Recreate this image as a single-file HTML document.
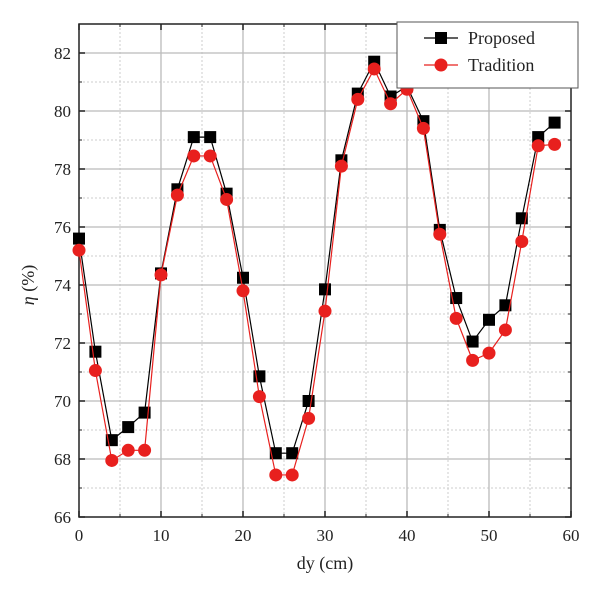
<!DOCTYPE html>
<html><head><meta charset="utf-8"><style>
body{margin:0;background:#fff}
svg{display:block;font-family:"Liberation Serif",serif}
</style></head><body>
<svg id="chart" width="600" height="595" viewBox="0 0 600 595"></svg>
<script>
const xValues=[0,2,4,6,8,10,12,14,16,18,20,22,24,26,28,30,32,34,36,38,40,42,44,46,48,50,52,54,56,58];
const proposed=[75.6,71.7,68.65,69.1,69.6,74.4,77.3,79.1,79.1,77.15,74.25,70.85,68.2,68.2,70.0,73.85,78.3,80.6,81.7,80.5,80.85,79.65,75.9,73.55,72.05,72.8,73.3,76.3,79.1,79.6];
const tradition=[75.2,71.05,67.95,68.3,68.3,74.35,77.1,78.45,78.45,76.95,73.8,70.15,67.45,67.45,69.4,73.1,78.1,80.4,81.45,80.25,80.75,79.4,75.75,72.85,71.4,71.65,72.45,75.5,78.8,78.85];
const xTicks=[0,10,20,30,40,50,60];
const yTicks=[66,68,70,72,74,76,78,80,82];
const NS="http://www.w3.org/2000/svg";
const svg=document.getElementById('chart');
const L=79,R=571,T=24,B=517;
const xs=v=>L+(v-0)/(60-0)*(R-L);
const ys=v=>517-(v-66)/16*(517-53);
function mk(tag,attrs,parent){const e=document.createElementNS(NS,tag);for(const k in attrs)e.setAttribute(k,attrs[k]);(parent||svg).appendChild(e);return e;}
const grid=mk('g',{});


for(let v=67;v<83;v+=2){mk('line',{x1:L,x2:R,y1:ys(v),y2:ys(v),stroke:'#ccc','stroke-dasharray':'2,2'},grid);}
for(let v=5;v<60;v+=10){mk('line',{x1:xs(v),x2:xs(v),y1:T,y2:B,stroke:'#ccc','stroke-dasharray':'2,2'},grid);}
yTicks.forEach(v=>{if(v>66)mk('line',{x1:L,x2:R,y1:ys(v),y2:ys(v),stroke:'#bbb','stroke-width':1.3},grid);});
xTicks.forEach(v=>{if(v>0&&v<60)mk('line',{x1:xs(v),x2:xs(v),y1:T,y2:B,stroke:'#bbb','stroke-width':1.3},grid);});
const frame=mk('rect',{x:L,y:T,width:R-L,height:B-T,fill:'none',stroke:'#222','stroke-width':1.5});


// ticks
yTicks.forEach(v=>{const y=ys(v);mk('line',{x1:L,x2:L+6,y1:y,y2:y,stroke:'#222','stroke-width':1.5});mk('line',{x1:R,x2:R-6,y1:y,y2:y,stroke:'#222','stroke-width':1.5});
const t=mk('text',{x:L-8,y:y+6,'text-anchor':'end','font-size':17,fill:'#222'});t.textContent=v;

});
for(let v=67;v<83;v+=2){const y=ys(v);mk('line',{x1:L,x2:L+3,y1:y,y2:y,stroke:'#222'});mk('line',{x1:R,x2:R-3,y1:y,y2:y,stroke:'#222'});}
xTicks.forEach(v=>{const x=xs(v);mk('line',{x1:x,x2:x,y1:B,y2:B-6,stroke:'#222','stroke-width':1.5});mk('line',{x1:x,x2:x,y1:T,y2:T+6,stroke:'#222','stroke-width':1.5});
const t=mk('text',{x:x,y:B+24,'text-anchor':'middle','font-size':17,fill:'#222'});t.textContent=v;

});
for(let v=5;v<60;v+=10){const x=xs(v);mk('line',{x1:x,x2:x,y1:B,y2:B-3,stroke:'#222'});mk('line',{x1:x,x2:x,y1:T,y2:T+3,stroke:'#222'});}
const xt=mk('text',{x:(L+R)/2,y:B+52,'text-anchor':'middle','font-size':18,fill:'#222'});xt.textContent='dy (cm)';


const yt=mk('text',{x:0,y:0,'text-anchor':'middle','font-size':18,fill:'#222',transform:`translate(34,${(53+517)/2}) rotate(-90)`});
yt.innerHTML='<tspan font-style="italic">η</tspan> (%)';


function series(vals,color,shape,name){
 const g=mk('g',{});
 
 
 mk('polyline',{points:vals.map((v,i)=>xs(xValues[i])+','+ys(v)).join(' '),fill:'none',stroke:color,'stroke-width':1.2},g);
 vals.forEach((v,i)=>{const x=xs(xValues[i]),y=ys(v);let m;
  if(shape==='sq')m=mk('rect',{x:x-6,y:y-6,width:12,height:12,fill:color},g);
  else m=mk('circle',{cx:x,cy:y,r:6.5,fill:color},g);
  
  });
}
series(proposed,'#000','sq','series-proposed');
series(tradition,'#e8201e','ci','series-tradition');
const lg=mk('g',{});


mk('rect',{x:397,y:22,width:181,height:66,fill:'#fff',stroke:'#555','stroke-width':1},lg);
mk('line',{x1:424,x2:458,y1:38,y2:38,stroke:'#000','stroke-width':1.2},lg);
mk('rect',{x:435,y:32,width:12,height:12,fill:'#000'},lg);
mk('line',{x1:424,x2:458,y1:65,y2:65,stroke:'#e8201e','stroke-width':1.2},lg);
mk('circle',{cx:441,cy:65,r:6.5,fill:'#e8201e'},lg);
const l1=mk('text',{x:468,y:44,'font-size':18,fill:'#222'},lg);l1.textContent='Proposed';


const l2=mk('text',{x:468,y:71,'font-size':18,fill:'#222'},lg);l2.textContent='Tradition';


</script>
</body></html>
